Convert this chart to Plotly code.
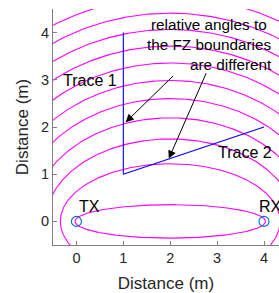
import numpy as np
import plotly.graph_objects as go

# Data
wavelength = 0.125          # m (2.4 GHz)
link_distance = 4.0         # m
zone_numbers = [1, 11, 21, 31, 41, 51, 61, 71, 81, 91, 101, 111, 121]
tx_pos = [0.0, 0.0]
rx_pos = [4.0, 0.0]
trace1_x = [1, 1]
trace1_y = [1, 4]
trace2_x = [1, 4]
trace2_y = [1, 2]

fig = go.Figure()

t = np.linspace(0, 2 * np.pi, 721)
cx = (tx_pos[0] + rx_pos[0]) / 2
c = link_distance / 2
for n in zone_numbers:
    a = (link_distance + n * wavelength / 2) / 2
    b = np.sqrt(a * a - c * c)
    fig.add_trace(go.Scatter(x=cx + a * np.cos(t), y=b * np.sin(t), mode="lines",
                             line=dict(color="#FF00FF", width=1.1), hoverinfo="skip"))

fig.add_trace(go.Scatter(x=trace1_x, y=trace1_y, mode="lines",
                         line=dict(color="#0000FF", width=1.1)))
fig.add_trace(go.Scatter(x=trace2_x, y=trace2_y, mode="lines",
                         line=dict(color="#0000FF", width=1.1)))
fig.add_trace(go.Scatter(x=[tx_pos[0], rx_pos[0]], y=[tx_pos[1], rx_pos[1]], mode="markers",
                         marker=dict(symbol="circle-open", size=10, color="#0072BD",
                                     line=dict(width=1.1, color="#0072BD"))))

FAM = "Liberation Sans, Arial, sans-serif"
font = dict(family=FAM, size=16, color="#000000")
font_note = dict(family=FAM, size=15.3, color="#000000")
texts = [
    ("TX", 0.04, 0.32, "left"),
    ("RX", 3.87, 0.32, "left"),
    ("Trace 1", -0.31, 2.98, "left"),
    ("Trace 2", 3.0, 1.45, "left"),
]
for s, x, y, al in texts:
    fig.add_annotation(x=x, y=y, text=s, showarrow=False, xanchor=al, yanchor="middle",
                       font=font, borderpad=0)

fig.add_annotation(x=2.83, y=4.17, text="relative angles to", showarrow=False,
                   xanchor="center", yanchor="middle", font=font_note, borderpad=0)
fig.add_annotation(x=2.83, y=3.75, text="the FZ boundaries", showarrow=False,
                   xanchor="center", yanchor="middle", font=font_note, borderpad=0)
fig.add_annotation(x=4.19, y=3.32, text="are different", showarrow=False,
                   xanchor="right", yanchor="middle", font=font_note, borderpad=0)

# arrows
for (hx, hy, tx, ty) in [(1.05, 2.1, 2.09, 3.11), (1.97, 1.33, 2.78, 3.17)]:
    fig.add_annotation(x=hx, y=hy, ax=tx, ay=ty, xref="x", yref="y", axref="x", ayref="y",
                       text="", showarrow=True, arrowhead=2, arrowsize=1.6, arrowwidth=1,
                       arrowcolor="#000000")

axis_common = dict(showgrid=False, zeroline=False, showline=True, linecolor="#808080",
                   linewidth=1, ticks="inside", ticklen=4, tickcolor="#808080",
                   tickfont=dict(family=FAM, size=14.5, color="#262626"),
                   mirror=False, automargin=False)

fig.update_layout(
    width=279, height=293,
    margin=dict(l=53, r=0, t=9, b=48),
    paper_bgcolor="white", plot_bgcolor="white",
    showlegend=False,
    xaxis=dict(range=[-0.5, 4.32], tickvals=[0, 1, 2, 3, 4],
               title=dict(text="Distance (m)", standoff=14,
                          font=dict(family=FAM, size=17, color="#262626")),
               **axis_common),
    yaxis=dict(range=[-0.5, 4.5], tickvals=[0, 1, 2, 3, 4],
               title=dict(text="Distance (m)", standoff=8,
                          font=dict(family=FAM, size=17, color="#262626")),
               **axis_common),
)

fig.write_html("out.html", config={"displayModeBar": False},
               post_script="document.body.style.margin='0';document.body.style.overflow='hidden';")
